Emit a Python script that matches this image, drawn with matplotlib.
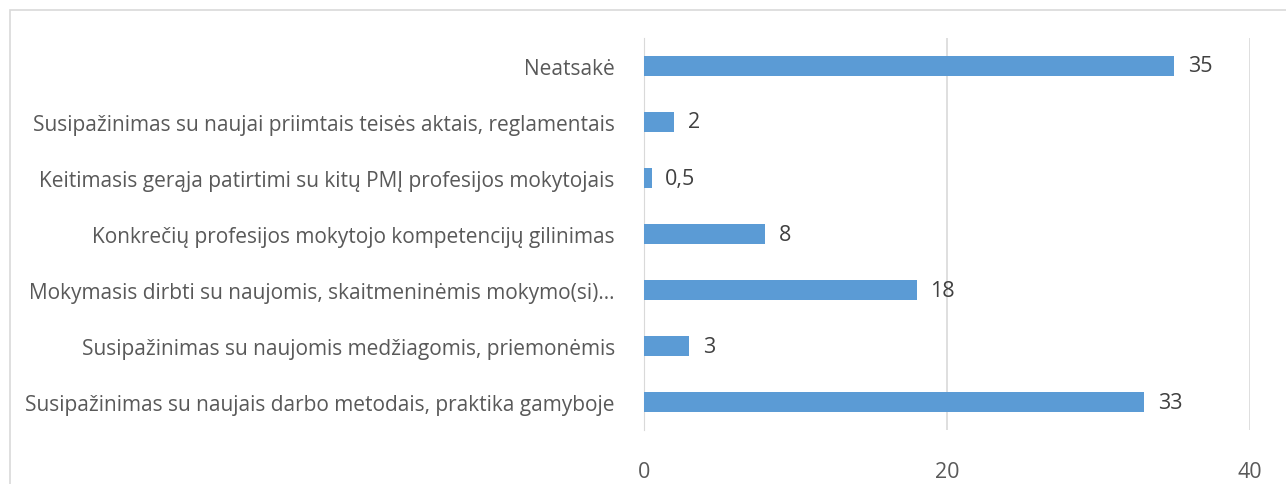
import matplotlib.pyplot as plt
from matplotlib.patches import Rectangle

categories = [
    "Susipažinimas su naujais darbo metodais, praktika gamyboje",
    "Susipažinimas su naujomis medžiagomis, priemonėmis",
    "Mokymasis dirbti su naujomis, skaitmeninėmis mokymo(si)…",
    "Konkrečių profesijos mokytojo kompetencijų gilinimas",
    "Keitimasis gerąja patirtimi su kitų PMĮ profesijos mokytojais",
    "Susipažinimas su naujai priimtais teisės aktais, reglamentais",
    "Neatsakė",
]
values = [33, 3, 18, 8, 0.5, 2, 35]
value_labels = ["33", "3", "18", "8", "0,5", "2", "35"]
x_ticks = [0, 20, 40]

plt.rcParams['font.family'] = ['Open Sans', 'DejaVu Sans']
text_color = '#595959'
grid_color = '#D9D9D9'

fig = plt.figure(figsize=(12.86, 4.85), dpi=100)
ax = fig.add_axes([0.5008, 0.1113, 0.4713, 0.8083])

# outer chart frame (cut off at top/right/bottom in the original)
fig.patches.append(Rectangle((10 / 1286, -0.1), 1.2, 1 - 11 / 485 + 0.1,
                             transform=fig.transFigure, fill=False,
                             edgecolor=grid_color, linewidth=1.2))

y = range(len(categories))
ax.barh(y, values, height=0.36, color='#5B9BD5', zorder=3)
for i, (v, lab) in enumerate(zip(values, value_labels)):
    ax.text(v + 0.9, i, lab, va='center', ha='left', fontsize=15.5, color='#404040')

ax.set_xlim(0, 40)
ax.set_ylim(-0.5, len(categories) - 0.5)
ax.set_yticks(list(y))
ax.set_yticklabels(categories, fontsize=15.0, color=text_color)
ax.set_xticks(x_ticks)
ax.set_xticklabels([str(t) for t in x_ticks], fontsize=15.5, color=text_color)
ax.tick_params(axis='both', length=0)
ax.tick_params(axis='y', pad=21)
ax.tick_params(axis='x', pad=22)
ax.grid(axis='x', color=grid_color, linewidth=1.2, zorder=0)
for s in ['top', 'right', 'bottom']:
    ax.spines[s].set_visible(False)
ax.spines['left'].set_color(grid_color)

plt.savefig('out.png', dpi=100)
